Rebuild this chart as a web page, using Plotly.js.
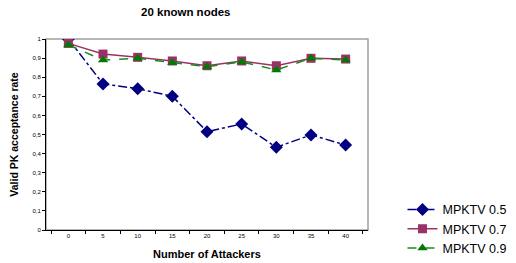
<!DOCTYPE html>
<html><head><meta charset="utf-8">
<script src="https://cdn.plot.ly/plotly-3.0.1.min.js"></script>
<style>html,body{margin:0;padding:0;background:#fff;}</style>
</head><body>
<div id="chart" style="width:516px;height:263px;"></div>
<script>
const attackers = ['0','5','10','15','20','25','30','35','40'];
const mpktv05 = [1.0, 0.765, 0.74, 0.70, 0.515, 0.555, 0.433, 0.498, 0.445];
const mpktv07 = [0.977, 0.921, 0.904, 0.885, 0.86, 0.885, 0.86, 0.899, 0.895];
const mpktv09 = [0.969, 0.89, 0.899, 0.876, 0.855, 0.88, 0.838, 0.899, 0.89];
const yTickVals = [0,0.1,0.2,0.3,0.4,0.5,0.6,0.7,0.8,0.9,1];
const yTickText = ['0','0,1','0,2','0,3','0,4','0,5','0,6','0,7','0,8','0,9','1'];
const seriesNames = ['MPKTV 0.5','MPKTV 0.7','MPKTV 0.9'];

const traces = [
  {x: attackers, y: mpktv05, name: seriesNames[0], mode: 'lines+markers',
   line: {color: '#000080', width: 1.5, dash: 'dashdot'},
   marker: {symbol: 'diamond', size: 10, color: '#000080'}},
  {x: attackers, y: mpktv07, name: seriesNames[1], mode: 'lines+markers',
   line: {color: '#993366', width: 1.5},
   marker: {symbol: 'square', size: 9, color: '#993366'}},
  {x: attackers, y: mpktv09, name: seriesNames[2], mode: 'lines+markers',
   line: {color: '#1a8a1a', width: 1.5, dash: 'dash'},
   marker: {symbol: 'triangle-up', size: 9, color: '#007a00'}}
];

const layout = {
  width: 516, height: 263,
  margin: {l: 46, r: 148, t: 39, b: 33, autoexpand: false},
  paper_bgcolor: '#fff', plot_bgcolor: '#fff',
  font: {family: 'Liberation Sans, Arial, sans-serif', color: '#000'},
  title: {text: '<b>20 known nodes</b>', font: {size: 11.5}, xref: 'container', x: 0.36, xanchor: 'center', y: 0.955, yanchor: 'middle'},
  showlegend: true,
  legend: {xref: 'container', yref: 'container', x: 0.78, y: 0.259, xanchor: 'left', yanchor: 'top',
    font: {size: 12.5}, tracegroupgap: 0, bgcolor: 'rgba(0,0,0,0)'},
  xaxis: {type: 'category', tickson: 'boundaries', ticks: 'outside', ticklen: 3, tickcolor: '#000',
    showline: true, linecolor: '#000', linewidth: 1, showgrid: false, zeroline: false, automargin: false,
    tickfont: {size: 6}, title: {text: '<b>Number of Attackers</b>', font: {size: 11}, standoff: 12}},
  yaxis: {range: [0, 1], tickvals: yTickVals, ticktext: yTickText, ticks: 'outside', ticklen: 3, tickcolor: '#000',
    showline: true, linecolor: '#000', linewidth: 1, showgrid: false, zeroline: false, automargin: false,
    tickfont: {size: 6}, title: {text: '<b>Valid PK acceptance rate</b>', font: {size: 10.5}, standoff: 11}},
  shapes: [{type: 'rect', xref: 'paper', yref: 'paper', x0: 0, x1: 1, y0: 0, y1: 1,
    line: {color: '#a0a0a0', width: 1.5}, layer: 'below'}]
};
Plotly.newPlot('chart', traces, layout, {displayModeBar: false, staticPlot: true});
</script>
</body></html>
